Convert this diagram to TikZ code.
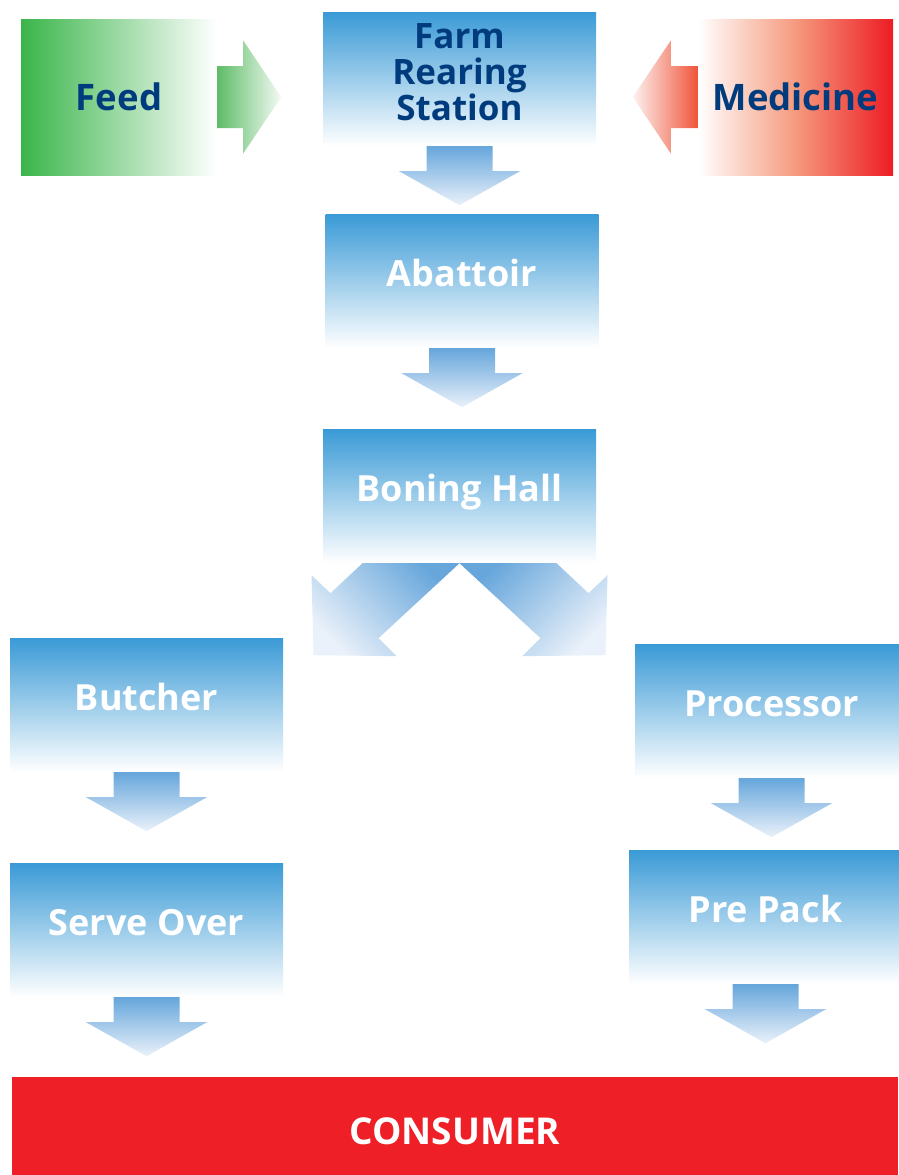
\documentclass[tikz,border=0pt]{standalone}
\usepackage{fontspec}
\setmainfont{Open Sans}
\usepackage{tikz}

\definecolor{stageblue}{HTML}{3A9AD6}
\definecolor{flowblue}{HTML}{66A6DB}
\definecolor{flowpale}{HTML}{EAF1FA}
\definecolor{inkblue}{HTML}{003C7D}
\definecolor{feedgreen}{HTML}{3AB54A}
\definecolor{feedarrow}{HTML}{5EBB67}
\definecolor{medred}{HTML}{ED1C24}
\definecolor{medsalmon}{HTML}{F59A7E}
\definecolor{medarrow}{HTML}{EF553A}
\definecolor{consumerred}{HTML}{EE1F26}

\tikzset{
  stage/.style={rectangle, inner sep=0, minimum width=273, minimum height=134,
    top color=stageblue, bottom color=white, text=white, align=center,
    font=\bfseries\fontsize{36}{40}\selectfont, text height=26, text depth=16},
  source/.style={rectangle, inner sep=0, minimum width=196, minimum height=156,
    text=inkblue, font=\bfseries\fontsize{36.5}{40}\selectfont},
  flowdown/.style={top color=flowblue, bottom color=flowpale},
}

% block arrow hanging below a stage
\newcommand{\downflow}[1]{%
  \path[flowdown] ([xshift=-33]#1.south) -- ++(66,0) -- ++(0,25) -- ++(27.5,0)
    -- ++(-60.5,34) -- ++(-60.5,-34) -- ++(27.5,0) -- cycle;}

\begin{document}
\begin{tikzpicture}[x=1pt, y=-1pt]
        \useasboundingbox (0,0) rectangle (898,1175);

        \node[source, left color=feedgreen, right color=white] (feed) at (119,97) {Feed};      %
        \node[source, left color=white, right color=medred, middle color=medsalmon,
              minimum width=195] (medicine) at (795.5,97) {Medicine};                           %
        \node[stage, text=inkblue, font=\bfseries\fontsize{35}{36}\selectfont,
              text height=, text depth=14] (farm) at (459.5,79) {Farm\\Rearing\\Station};        %
        \node[stage] (abattoir)   at (462,281)    {Abattoir};    %
        \node[stage] (boning)     at (459.5,496)  {Boning Hall}; %
        \node[stage] (butcher)    at (146.5,705)  {Butcher};     %
        \node[stage] (serveover)  at (146.5,930)  {Serve Over};  %
        \node[stage] (processor)  at (771.5,711)  {Processor};   %
        \node[stage] (prepack)    at (765.5,917)  {Pre Pack};    %
        \node[rectangle, inner sep=0, minimum width=886, minimum height=98, fill=consumerred,
              text=white, font=\bfseries\fontsize{37}{40}\selectfont, text height=36, text depth=0]
              (consumer) at (455,1126) {CONSUMER};             %

        % side inputs
        \path[left color=feedarrow, right color=white!94!feedgreen] (feed.east) ++(0,-31) -- ++(26,0)
          -- ++(0,-25.5) -- ++(38,56.5) -- ++(-38,56.5) -- ++(0,-25.5) -- ++(-26,0) -- cycle;    % feed -> farm
        \path[left color=white!92!medarrow, right color=medarrow] (medicine.west) ++(0,-31) -- ++(-27,0)
          -- ++(0,-25.5) -- ++(-38,56.5) -- ++(38,56.5) -- ++(0,-25.5) -- ++(27,0) -- cycle;    % medicine -> farm

        \downflow{farm}       % -> abattoir
        \downflow{abattoir}   % -> boning
        \downflow{butcher}    % -> serveover
        \downflow{serveover}  % -> consumer
        \downflow{processor}  % -> prepack
        \downflow{prepack}    % -> consumer

        % split below the boning hall
        \path[flowdown, shading angle=-45] (boning.south) -- ++(-97,0) -- ++(-32,30) -- ++(-19,-18)
          -- ++(2,80) -- ++(83,1) -- ++(-18,-18) -- cycle;          % -> butcher
        \path[flowdown, shading angle=45]  (boning.south) -- ++(97,0) -- ++(32,30) -- ++(19,-18)
          -- ++(-2,80) -- ++(-83,1) -- ++(18,-18) -- cycle;         % -> processor
\end{tikzpicture}
\end{document}
